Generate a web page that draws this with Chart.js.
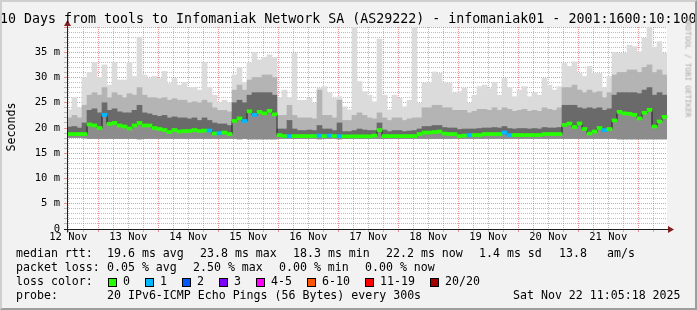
<!DOCTYPE html>
<html><head><meta charset="utf-8">
<script src="https://cdn.jsdelivr.net/npm/chart.js@4/dist/chart.umd.min.js"></script>
<style>
html,body{margin:0;padding:0;}
body{width:697px;height:310px;overflow:hidden;background:#f2f2f2;position:relative;font-family:'DejaVu Sans Mono',monospace;color:#000;}
#frame{position:absolute;left:0;top:0;width:697px;height:310px;box-sizing:border-box;border-left:2px solid #cfcfcf;border-top:2px solid #cfcfcf;border-right:2px solid #9e9e9e;border-bottom:2px solid #9e9e9e;pointer-events:none;z-index:5}
#c{position:absolute;left:0;top:0;}
.t{position:absolute;white-space:pre;font-size:11.6px;line-height:11.6px;}
#title{position:absolute;left:0;top:11.8px;white-space:pre;font-size:13.3px;line-height:13.3px;}
#ylab{position:absolute;left:-29px;top:120px;width:80px;height:14px;line-height:14px;text-align:center;font-size:11.6px;transform:rotate(-90deg);}
#wm{position:absolute;left:638px;top:63px;width:100px;height:9px;line-height:9px;text-align:center;font-size:7.5px;color:#a8a8a8;transform:rotate(90deg);white-space:pre;}
.sw{position:absolute;width:7px;height:7px;border:1px solid #000;}
</style></head><body>
<canvas id="c" width="697" height="310"></canvas>
<div id="title">10 Days from tools to Infomaniak Network SA (AS29222) - infomaniak01 - 2001:1600:10:100</div>
<div id="ylab">Seconds</div>
<div id="wm">RRDTOOL / TOBI OETIKER</div>
<div id="legend"></div>
<div id="frame"></div>
<script>
// ---- data (2-hour columns, 12 Nov 11:05 -> 22 Nov 11:05) ----
const dayLabels = ['12 Nov','13 Nov','14 Nov','15 Nov','16 Nov','17 Nov','18 Nov','19 Nov','20 Nov','21 Nov'];
const medianRtt = [
 18.8,18.8,18.8,18.8,20.7,20.5,20.0,22.6,20.8,21.0,
 20.5,20.3,19.9,20.5,21.0,20.5,20.5,20.0,19.8,19.6,
 19.2,19.6,19.3,19.4,19.4,19.6,19.4,19.5,19.5,18.9,
 19.0,19.1,18.8,21.4,21.9,21.4,23.3,22.6,23.2,22.9,
 23.4,22.7,18.6,18.4,18.4,18.4,18.4,18.4,18.4,18.4,
 18.5,18.4,18.5,18.4,18.4,18.35,18.35,18.35,18.35,18.35,
 18.35,18.5,19.6,18.4,18.4,18.4,18.4,18.4,18.4,18.4,
 18.8,19.1,19.1,19.2,19.3,18.9,18.8,18.8,18.4,18.5,
 18.6,18.6,18.6,18.8,18.8,18.8,18.8,19.1,18.6,18.6,
 18.6,18.6,18.6,18.6,18.6,18.8,18.8,18.8,18.8,20.6,
 20.9,20.2,20.9,19.8,18.9,19.3,20.0,19.6,19.8,21.5,
 23.2,22.9,22.8,22.6,21.9,23.0,23.6,20.3,21.3,22.2];
const lossCount = [
 0,0,0,0,0,0,0,1,0,0, 0,0,0,0,0,0,0,0,0,0,
 0,0,0,0,0,0,0,0,1,0, 1,0,0,0,0,1,0,1,0,0,
 0,0,0,0,1,0,0,0,0,0, 1,0,1,0,1,0,0,0,0,0,
 0,0,0,0,0,0,0,0,0,0, 0,0,0,0,0,0,0,0,0,0,
 1,0,0,0,0,0,0,1,1,0, 0,0,0,0,0,0,0,0,0,0,
 0,0,0,0,0,0,0,1,0,0, 0,0,0,0,0,0,0,0,0,0];
const smokeTop = [
 23.6,26.0,24.0,30.0,31.0,33.0,30.0,32.5,28.5,33.0,
 29.5,29.5,33.0,30.2,38.0,30.5,29.8,30.2,29.8,31.2,
 28.8,29.8,28.5,29.0,28.0,28.0,27.5,33.0,28.0,26.5,
 25.0,25.5,25.0,30.5,32.0,29.0,33.0,35.0,33.5,34.0,
 34.5,34.0,26.0,27.5,26.0,34.8,25.5,25.5,25.9,25.0,
 27.9,28.2,27.0,25.9,26.2,24.2,23.6,40.0,29.2,27.2,
 26.5,25.2,37.6,26.5,23.6,26.5,25.9,24.2,25.5,40.0,
 24.9,28.9,28.9,31.1,30.8,28.9,28.9,26.9,27.2,27.9,
 24.9,26.5,28.2,28.5,27.8,29.0,26.5,29.8,28.0,26.2,
 27.5,28.2,26.2,27.0,26.5,29.8,28.5,27.5,28.2,32.8,
 32.2,33.1,30.8,30.2,32.2,30.8,30.8,28.0,30.2,35.0,
 34.8,34.8,36.4,36.1,35.1,37.8,40.0,36.0,37.1,34.8];
const smokeUpperMid = [
 22.0,22.5,22.0,24.5,26.5,27.0,26.5,28.0,26.0,27.0,
 26.5,26.0,26.8,26.5,28.0,26.5,26.0,26.0,25.8,26.0,
 25.5,25.8,25.5,25.5,25.0,25.2,25.0,25.5,25.0,24.0,
 23.5,23.5,23.2,27.5,28.5,27.5,29.5,30.0,30.0,30.5,
 30.5,30.0,22.5,22.5,24.5,22.5,22.0,22.0,22.0,21.8,
 27.5,22.5,22.5,22.0,25.5,21.5,21.5,22.5,23.0,22.5,
 22.0,21.8,23.0,22.0,21.5,22.0,22.0,21.5,21.8,22.0,
 22.0,24.0,24.0,24.5,24.5,24.0,24.0,23.5,23.5,23.5,
 23.0,23.3,23.7,23.7,23.5,24.0,23.5,24.0,23.7,23.3,
 23.5,23.7,23.3,23.5,23.3,24.0,23.7,23.5,24.0,28.0,
 28.0,28.5,27.5,27.0,27.5,27.0,27.2,26.0,27.0,30.5,
 31.0,31.0,31.5,31.5,31.0,32.0,32.5,31.0,31.5,30.5];
const smokeInner = [
 20.2,20.3,20.0,21.0,23.5,23.8,23.0,25.0,23.5,23.8,
 23.2,23.0,23.0,23.5,24.5,23.0,22.8,22.5,22.3,22.5,
 22.0,22.2,22.0,22.0,21.8,22.0,21.5,22.0,21.5,21.0,
 20.8,20.8,20.5,25.0,25.5,25.0,26.5,27.0,27.0,27.0,
 27.0,26.5,19.8,19.8,21.5,19.8,19.5,19.5,19.6,19.5,
 20.5,19.8,19.8,19.5,21.0,19.3,19.3,19.5,19.8,19.6,
 19.5,19.5,21.0,19.6,19.3,19.5,19.5,19.3,19.4,19.5,
 19.8,20.3,20.3,20.5,20.5,20.1,20.0,20.0,19.7,19.8,
 19.8,19.8,19.9,20.0,20.0,20.1,20.0,20.3,19.9,19.8,
 19.9,19.9,19.8,19.9,19.8,20.1,20.0,20.0,20.1,24.5,
 24.5,24.5,24.0,23.8,24.0,23.8,24.0,23.5,23.8,26.5,
 27.0,27.0,27.0,27.0,26.8,27.5,28.0,26.5,27.0,26.5];
const smokeMin = [
 18.1,18.1,18.1,18.0,17.9,17.9,17.9,17.9,17.9,17.9,
 17.9,17.9,17.9,17.9,17.8,17.9,17.9,17.9,17.9,17.9,
 17.9,17.9,17.9,17.9,17.9,17.9,17.9,17.9,17.9,17.9,
 17.9,17.9,17.9,17.9,17.8,17.9,17.8,17.8,17.8,17.8,
 17.8,17.8,17.9,17.9,17.9,17.9,17.9,17.9,17.9,17.9,
 17.8,17.9,17.9,17.9,17.8,17.9,17.9,17.9,17.9,17.9,
 17.9,17.9,17.9,17.9,17.9,17.9,17.9,17.9,17.9,17.9,
 17.9,17.9,17.9,17.9,17.9,17.9,17.9,17.9,17.9,17.9,
 17.9,17.9,17.9,17.9,17.9,17.9,17.9,17.9,17.9,17.9,
 17.9,17.9,17.9,17.9,17.9,17.9,17.9,17.9,17.9,17.9,
 17.9,17.9,17.9,17.9,17.9,17.9,17.9,17.9,17.9,17.9,
 17.8,17.8,17.8,17.8,17.8,17.8,17.8,17.8,17.8,17.8];
const lossLabels = ['0','1','2','3','4-5','6-10','11-19','20/20'];
const lossColors = ['#26ff00','#00b8ff','#0059ff','#7e00ff','#ff00ff','#ff5500','#ff0000','#a10000'];
const statsRtt = ['19.6 ms avg','23.8 ms max','18.3 ms min','22.2 ms now','1.4 ms sd','13.8','am/s'];
const statsLoss = ['0.05 % avg','2.50 % max','0.00 % min','0.00 % now'];
const probeText = '20 IPv6-ICMP Echo Pings (56 Bytes) every 300s';
const stampText = 'Sat Nov 22 11:05:18 2025';

// ---- build ----
const STEP = 2, SPAN = 240, TICK0 = 0.5;
const xOf = i => i * STEP + STEP / 2;
const band = (lo, hi) => lo.map((v, i) => ({x: xOf(i), y: [v, hi[i]]}));
const medHalf = 0.3;

const barCommon = {type:'bar', barPercentage:1, categoryPercentage:1, grouped:false, borderWidth:0};
const datasets = [
  Object.assign({}, barCommon, {label:'median', order:0,
    data: medianRtt.map((m, i) => ({x: xOf(i), y: [m - medHalf, m + medHalf]})),
    backgroundColor: lossCount.map(l => lossColors[Math.min(l, 7)])}),
  {type:'line', label:'medline', order:1, data: medianRtt.map((m, i) => ({x: xOf(i), y: m})),
    stepped:'middle', borderColor:'#202020', borderWidth:1, pointRadius:0, fill:false},
  Object.assign({}, barCommon, {label:'dark', order:2, data: band(medianRtt, smokeInner), backgroundColor:'#6a6a6a'}),
  Object.assign({}, barCommon, {label:'mid', order:3, data: band(smokeInner, smokeUpperMid), backgroundColor:'#b4b4b4'}),
  Object.assign({}, barCommon, {label:'light', order:4, data: band(smokeUpperMid, smokeTop), backgroundColor:'#dbdbdb'}),
  Object.assign({}, barCommon, {label:'low', order:5, data: band(smokeMin, medianRtt), backgroundColor:'#8c8c8c'})
];

const MINOR = 'rgba(143,143,143,0.6)', MAJOR = 'rgba(222,79,79,0.6)';
const axisPlugin = {
  id:'axes',
  beforeDraw(chart){
    const a = chart.chartArea, ctx = chart.ctx;
    ctx.save(); ctx.fillStyle = '#ffffff';
    ctx.fillRect(a.left, a.top, a.right - a.left, a.bottom - a.top);
    ctx.restore();
  },
  afterDraw(chart){
    const a = chart.chartArea, ctx = chart.ctx;
    const y0 = Math.round(chart.scales.y.getPixelForValue(0)) + 0.5;
    const xl = Math.round(a.left) + 0.5;
    ctx.save();
    ctx.strokeStyle = '#1f1f1f'; ctx.lineWidth = 1;
    ctx.beginPath(); ctx.moveTo(a.left - 3, y0); ctx.lineTo(a.right + 2, y0); ctx.stroke();
    ctx.beginPath(); ctx.moveTo(xl, y0 + 3); ctx.lineTo(xl, a.top - 2); ctx.stroke();
    ctx.fillStyle = '#801f1f';
    ctx.beginPath(); ctx.moveTo(a.right + 1, y0 - 3.5); ctx.lineTo(a.right + 1, y0 + 3.5); ctx.lineTo(a.right + 7, y0); ctx.closePath(); ctx.fill();
    ctx.beginPath(); ctx.moveTo(xl - 3.5, a.top - 1); ctx.lineTo(xl + 3.5, a.top - 1); ctx.lineTo(xl, a.top - 7); ctx.closePath(); ctx.fill();
    ctx.restore();
  }
};

new Chart(document.getElementById('c'), {
  type:'bar',
  data:{datasets},
  options:{
    responsive:false, animation:false, devicePixelRatio:1,
    layout:{padding:{left:0, right:30, top:27, bottom:61}},
    plugins:{legend:{display:false}, tooltip:{enabled:false}, title:{display:false}},
    scales:{
      x:{type:'linear', min:0, max:SPAN, offset:false, z:1,
        afterFit: s => { s.height = 20; },
        afterBuildTicks: s => { const t = []; for (let v = TICK0; v < SPAN; v += 6) t.push({value:v}); s.ticks = t; },
        ticks:{autoSkip:false, maxRotation:0, padding:-1, color:'#000',
          font:{family:'DejaVu Sans Mono', size:10.5},
          callback:(v, i) => (i % 4 === 0 ? (dayLabels[i / 4] || '') : '')},
        grid:{offset:false, tickLength:3, lineWidth:1,
          color: c => (c.index % 4 === 2 ? MAJOR : MINOR)},
        border:{display:false, dash:[1,1]}
      },
      y:{type:'linear', min:0, max:40, z:1,
        afterFit: s => { s.width = 67; },
        afterBuildTicks: s => { const t = []; for (let v = 0; v <= 40; v++) t.push({value:v}); s.ticks = t; },
        ticks:{autoSkip:false, padding:4, color:'#000',
          font:{family:'DejaVu Sans Mono', size:10.5},
          callback: v => (v === 0 ? '0' : (v % 5 === 0 && v < 40 ? v + ' m' : ''))},
        grid:{tickLength:3, lineWidth:1,
          color: c => (c.tick.value === 0 ? 'rgba(0,0,0,0)' : (c.tick.value % 5 === 0 ? MAJOR : MINOR))},
        border:{display:false, dash:[1,1]}
      }
    }
  },
  plugins:[axisPlugin]
});

// ---- legend text ----
const L = document.getElementById('legend');
function put(txt, x, base){ const d = document.createElement('div'); d.className = 't'; d.textContent = txt; d.style.left = x + 'px'; d.style.top = (base - 9.8) + 'px'; L.appendChild(d); }
const rows = [257.5, 271.5, 285.5, 299.5];
put('median rtt:', 16, rows[0]);
[107, 200, 293, 386, 479, 559, 607].forEach((x, i) => put(statsRtt[i], x, rows[0]));
put('packet loss:', 16, rows[1]);
[107, 193, 279, 365].forEach((x, i) => put(statsLoss[i], x, rows[1]));
put('loss color:', 16, rows[2]);
[108, 145, 182, 219, 256, 307, 365, 430].forEach((x, i) => {
  const s = document.createElement('div'); s.className = 'sw'; s.style.left = x + 'px'; s.style.top = '278px'; s.style.background = lossColors[i]; L.appendChild(s);
  put(lossLabels[i], x + 15, rows[2]);
});
put('probe:', 16, rows[3]);
put(probeText, 107, rows[3]);
put(stampText, 513, rows[3]);
</script>
</body></html>
